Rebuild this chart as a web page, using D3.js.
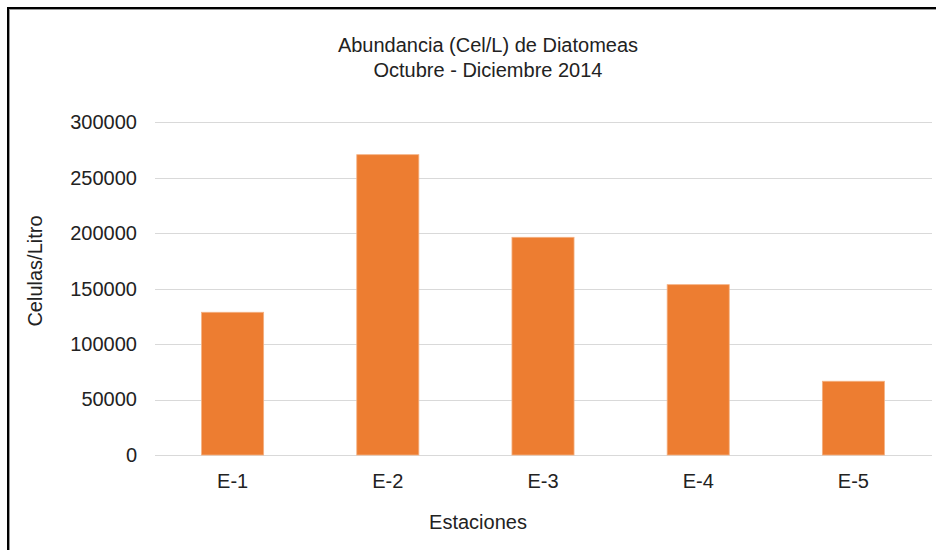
<!DOCTYPE html>
<html><head><meta charset="utf-8">
<script src="https://cdn.jsdelivr.net/npm/d3@7"></script>
<style>body{margin:0;background:#fff}svg{display:block;font-family:"Liberation Sans",Arial,sans-serif}</style>
</head><body>
<svg id="c" width="936" height="550"></svg>
<script>
const categories = ["E-1","E-2","E-3","E-4","E-5"];
const values = [128700, 270800, 196300, 153600, 66500];
const yTicks = [0, 50000, 100000, 150000, 200000, 250000, 300000];
const titleLines = ["Abundancia (Cel/L) de Diatomeas", "Octubre - Diciembre 2014"];
const yTitle = "Celulas/Litro";
const xTitle = "Estaciones";

const svg = d3.select("#c");
const FONT = "Liberation Sans, Arial, sans-serif";
// frame
svg.append("line").attr("x1",8).attr("x2",8).attr("y1",8).attr("y2",550).attr("stroke","#000").attr("stroke-width",2);
svg.append("line").attr("x1",9.5).attr("x2",9.5).attr("y1",9).attr("y2",550).attr("stroke","#999").attr("stroke-width",1);
svg.append("line").attr("x1",7).attr("x2",936).attr("y1",8).attr("y2",8).attr("stroke","#000").attr("stroke-width",2);
svg.append("line").attr("x1",9).attr("x2",936).attr("y1",9.5).attr("y2",9.5).attr("stroke","#999").attr("stroke-width",1);

const x = d3.scaleBand().domain(categories).range([155, 931]).paddingInner(0.6).paddingOuter(0.3);
const y = d3.scaleLinear().domain([0, 300000]).range([455, 122.3]);

// gridlines
svg.append("g").selectAll("line").data(yTicks).join("line")
  .attr("x1",155).attr("x2",932).attr("y1",d=>Math.round(y(d))+0.5).attr("y2",d=>Math.round(y(d))+0.5)
  .attr("stroke","#d9d9d9").attr("stroke-width",1);

// y axis labels
const yAxis = d3.axisLeft(y).tickValues(yTicks).tickSize(0).tickPadding(0).tickFormat(d3.format("d"));
const ya = svg.append("g").attr("transform","translate(137,0)").call(yAxis);
ya.select(".domain").remove();
ya.selectAll("text").attr("font-size",20).attr("fill","#222").attr("font-family",FONT);

// bars
svg.append("g").selectAll("rect").data(values).join("rect")
  .attr("x",(d,i)=>x(categories[i])).attr("width",x.bandwidth())
  .attr("y",d=>y(d)).attr("height",d=>y(0)-y(d))
  .attr("fill","#ed7d31").attr("stroke","#f4b183").attr("stroke-width",0.8);

// x axis labels
const xAxis = d3.axisBottom(x).tickSize(0).tickPadding(0);
const xa = svg.append("g").attr("transform","translate(0,474)").call(xAxis);
xa.select(".domain").remove();
xa.selectAll("text").attr("font-size",20).attr("fill","#222").attr("font-family",FONT);

// titles
svg.append("g").selectAll("text").data(titleLines).join("text")
  .attr("x",488).attr("y",(d,i)=>52+i*25).attr("text-anchor","middle")
  .attr("font-size",20).attr("fill","#222").text(d=>d);

svg.append("text").attr("transform","translate(42,271) rotate(-90)").attr("text-anchor","middle")
  .attr("font-size",20).attr("fill","#222").text(yTitle);
svg.append("text").attr("x",478).attr("y",529).attr("text-anchor","middle")
  .attr("font-size",20).attr("fill","#222").text(xTitle);
</script>
</body></html>
